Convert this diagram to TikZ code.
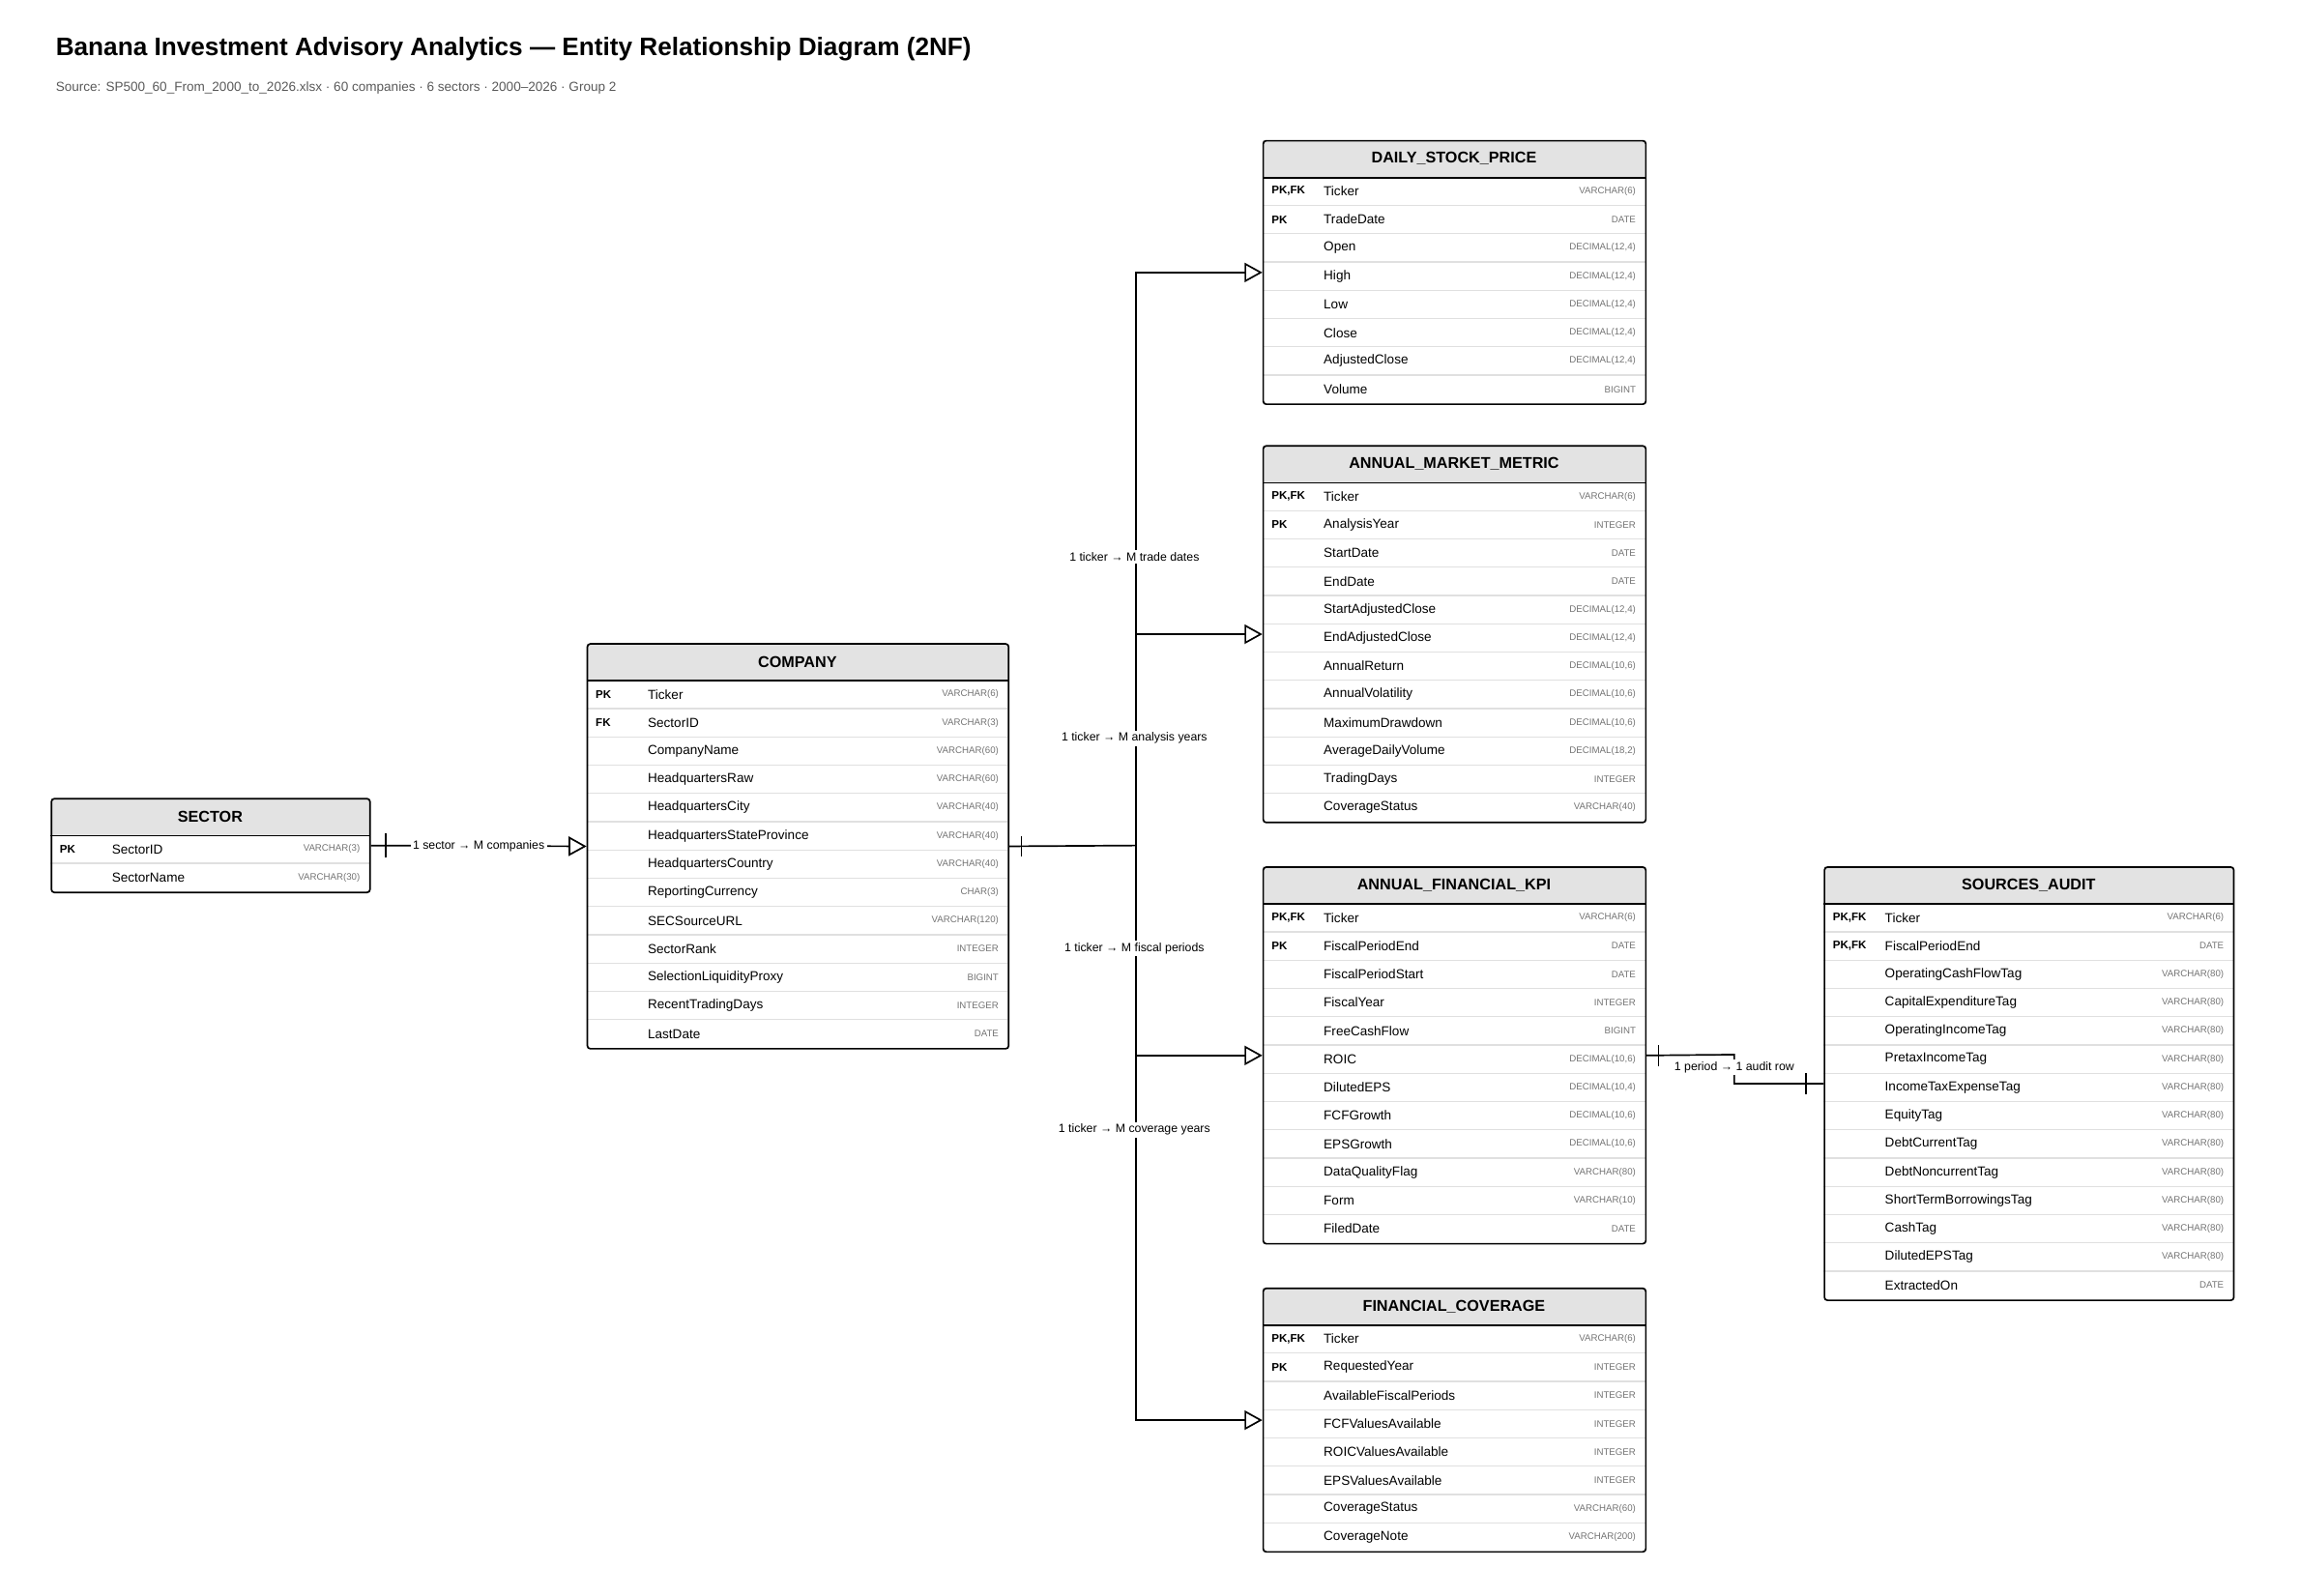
\documentclass[tikz,border=0pt]{standalone}
\usepackage{fontspec}
\setmainfont{Liberation Sans}
\usetikzlibrary{arrows.meta,calc}
\newcommand\ertable[7]{%
  \node[hdr, minimum width=#4pt, anchor=north west] (#1-h) at (#2,#3) {#6};
  \foreach \k/\f/\t [count=\i] in {#7} {
    \pgfmathsetmacro\ry{#3+25+19*(\i-1)}
    \node[keyt, anchor=west] (#1-k\i) at (#2+6,\ry+9.5) {\k};
    \node[fld, anchor=west] (#1-f\i) at (#2+41,\ry+9.5) {\f};
    \node[typ, anchor=east] (#1-t\i) at (#2+#4-6,\ry+9.5) {\t};
    \ifnum\i<#5 \draw[sep] (#2,\ry+19) -- (#2+#4,\ry+19); \fi
  }
  \node[tbl, minimum width=#4pt, minimum height={25pt+19pt*#5}, anchor=north west] (#1) at (#2,#3) {};
  \draw[line width=1.1pt] (#1-h.south west) -- (#1-h.south east);
}
\begin{document}
\begin{tikzpicture}[x=1pt,y=-1pt,
  hdr/.style={fill=black!11, minimum height=25pt, inner sep=0pt, font=\fontsize{10.5}{12}\selectfont\bfseries},
  tbl/.style={draw, line width=1.1pt, rounded corners=2pt, inner sep=0pt},
  keyt/.style={inner sep=0pt, font=\fontsize{7.5}{9}\selectfont\bfseries},
  fld/.style={inner sep=0pt, font=\fontsize{8.8}{10}\selectfont},
  typ/.style={inner sep=0pt, text=black!55, font=\fontsize{6.3}{8}\selectfont},
  sep/.style={draw=black!12, line width=0.8pt},
  rel/.style={line width=1.1pt, -{Triangle[open, length=12pt, width=13pt, line width=1.1pt]}},
  lnk/.style={line width=1.1pt},
  lbl/.style={fill=white, inner sep=1.5pt, font=\fontsize{8}{9}\selectfont}]
\useasboundingbox (0,0) rectangle (1545,1072);
\node[anchor=west, font=\fontsize{17}{20}\selectfont\bfseries] (title) at (34,33) {Banana Investment Advisory Analytics — Entity Relationship Diagram (2NF)};
\node[anchor=west, text=black!65, font=\fontsize{8.8}{10}\selectfont] (sub) at (34,59) {Source: SP500\_60\_From\_2000\_to\_2026.xlsx · 60 companies · 6 sectors · 2000–2026 · Group 2};

\ertable{sector}{34}{536}{214}{2}{SECTOR}{PK/SectorID/VARCHAR(3), /SectorName/VARCHAR(30)}
\ertable{company}{394}{432}{283}{13}{COMPANY}{PK/Ticker/VARCHAR(6), FK/SectorID/VARCHAR(3), /CompanyName/VARCHAR(60), /HeadquartersRaw/VARCHAR(60), /HeadquartersCity/VARCHAR(40), /HeadquartersStateProvince/VARCHAR(40), /HeadquartersCountry/VARCHAR(40), /ReportingCurrency/CHAR(3), /SECSourceURL/VARCHAR(120), /SectorRank/INTEGER, /SelectionLiquidityProxy/BIGINT, /RecentTradingDays/INTEGER, /LastDate/DATE}
\ertable{daily}{848}{94}{257}{8}{DAILY\_STOCK\_PRICE}{{PK,FK}/Ticker/VARCHAR(6), PK/TradeDate/DATE, /Open/{DECIMAL(12,4)}, /High/{DECIMAL(12,4)}, /Low/{DECIMAL(12,4)}, /Close/{DECIMAL(12,4)}, /AdjustedClose/{DECIMAL(12,4)}, /Volume/BIGINT}
\ertable{amm}{848}{299}{257}{12}{ANNUAL\_MARKET\_METRIC}{{PK,FK}/Ticker/VARCHAR(6), PK/AnalysisYear/INTEGER, /StartDate/DATE, /EndDate/DATE, /StartAdjustedClose/{DECIMAL(12,4)}, /EndAdjustedClose/{DECIMAL(12,4)}, /AnnualReturn/{DECIMAL(10,6)}, /AnnualVolatility/{DECIMAL(10,6)}, /MaximumDrawdown/{DECIMAL(10,6)}, /AverageDailyVolume/{DECIMAL(18,2)}, /TradingDays/INTEGER, /CoverageStatus/VARCHAR(40)}
\ertable{kpi}{848}{582}{257}{12}{ANNUAL\_FINANCIAL\_KPI}{{PK,FK}/Ticker/VARCHAR(6), PK/FiscalPeriodEnd/DATE, /FiscalPeriodStart/DATE, /FiscalYear/INTEGER, /FreeCashFlow/BIGINT, /ROIC/{DECIMAL(10,6)}, /DilutedEPS/{DECIMAL(10,4)}, /FCFGrowth/{DECIMAL(10,6)}, /EPSGrowth/{DECIMAL(10,6)}, /DataQualityFlag/VARCHAR(80), /Form/VARCHAR(10), /FiledDate/DATE}
\ertable{cov}{848}{865}{257}{8}{FINANCIAL\_COVERAGE}{{PK,FK}/Ticker/VARCHAR(6), PK/RequestedYear/INTEGER, /AvailableFiscalPeriods/INTEGER, /FCFValuesAvailable/INTEGER, /ROICValuesAvailable/INTEGER, /EPSValuesAvailable/INTEGER, /CoverageStatus/VARCHAR(60), /CoverageNote/VARCHAR(200)}
\ertable{sa}{1225}{582}{275}{14}{SOURCES\_AUDIT}{{PK,FK}/Ticker/VARCHAR(6), {PK,FK}/FiscalPeriodEnd/DATE, /OperatingCashFlowTag/VARCHAR(80), /CapitalExpenditureTag/VARCHAR(80), /OperatingIncomeTag/VARCHAR(80), /PretaxIncomeTag/VARCHAR(80), /IncomeTaxExpenseTag/VARCHAR(80), /EquityTag/VARCHAR(80), /DebtCurrentTag/VARCHAR(80), /DebtNoncurrentTag/VARCHAR(80), /ShortTermBorrowingsTag/VARCHAR(80), /CashTag/VARCHAR(80), /DilutedEPSTag/VARCHAR(80), /ExtractedOn/DATE}

% sector -> company
\draw[rel] (sector.east) -- (company.west) node[lbl, pos=0.5] {1 sector → M companies};
\draw[lnk] ($(sector.east)+(10,-8)$) -- ++(0,16);
% company -> trunk
\coordinate (trunk) at (763,568);
\draw[lnk] (company.east) -- (trunk);
\draw[lnk] ($(company.east)+(8,-7)$) -- ++(0,14);
\draw[rel] (trunk) |- (daily.west);
\draw[rel] (trunk) |- (amm.west);
\draw[rel] (trunk) |- (kpi.west);
\draw[rel] (trunk) |- (cov.west);
\node[lbl] (l1) at (762,374) {1 ticker → M trade dates};
\node[lbl] (l2) at (762,496) {1 ticker → M analysis years};
\node[lbl] (l3) at (762,637) {1 ticker → M fiscal periods};
\node[lbl] (l4) at (762,759) {1 ticker → M coverage years};
% kpi -> sources audit
\coordinate (bend) at (1165,708.5);
\draw[lnk] (kpi.east) -- (bend) |- (sa.west);
\draw[lnk] ($(kpi.east)+(8,-7)$) -- ++(0,14);
\draw[lnk] ($(sa.west)+(-12,-7)$) -- ++(0,14);
\node[lbl] (l5) at (1165,717) {1 period → 1 audit row};
\end{tikzpicture}
\end{document}
